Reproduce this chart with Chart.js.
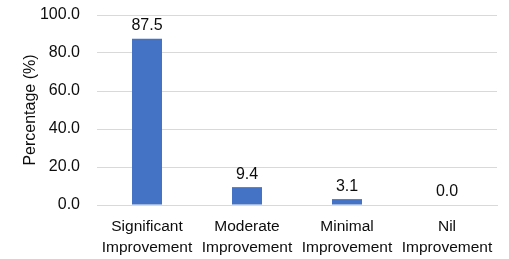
<!DOCTYPE html>
<html>
<head>
<meta charset="utf-8">
<script src="https://cdn.jsdelivr.net/npm/chart.js@4"></script>
<style>
  html, body { margin: 0; padding: 0; background: #fff; }
  #wrap { width: 509px; height: 259px; }
</style>
</head>
<body>
<div id="wrap"><canvas id="chart"></canvas></div>
<script>
  // Data
  const categories = [
    ["Significant", "Improvement"],
    ["Moderate", "Improvement"],
    ["Minimal", "Improvement"],
    ["Nil", "Improvement"]
  ];
  const percentages = [87.5, 9.4, 3.1, 0.0];
  const yTicks = [0, 20, 40, 60, 80, 100];

  const FONT = "'Liberation Sans', Arial, sans-serif";
  const TEXT = "#0d0d0d";

  // draws value labels above bars
  const valueLabels = {
    id: "valueLabels",
    afterDatasetsDraw(chart) {
      const ctx = chart.ctx;
      const meta = chart.getDatasetMeta(0);
      ctx.save();
      ctx.font = "16px " + FONT;
      ctx.fillStyle = TEXT;
      ctx.textAlign = "center";
      ctx.textBaseline = "bottom";
      meta.data.forEach((bar, i) => {
        ctx.fillText(percentages[i].toFixed(1), bar.x, bar.y - 5);
      });
      ctx.restore();
    }
  };

  new Chart(document.getElementById("chart"), {
    type: "bar",
    data: {
      labels: categories,
      datasets: [{
        data: percentages,
        backgroundColor: "#4472C4",
        barPercentage: 0.6,
        categoryPercentage: 0.5
      }]
    },
    options: {
      responsive: true,
      maintainAspectRatio: false,
      animation: false,
      layout: { padding: { top: 15, right: 12, bottom: 0, left: 0 } },
      plugins: { legend: { display: false }, tooltip: { enabled: false } },
      scales: {
        x: {
          grid: { display: false, drawTicks: false },
          border: { display: true, color: "#d9d9d9" },
          ticks: { color: TEXT, font: { family: FONT, size: 15.5, lineHeight: 1.35 }, padding: 11, maxRotation: 0 },
          afterFit: s => { s.height = 54; }
        },
        y: {
          min: 0, max: 100,
          afterBuildTicks: s => { s.ticks = yTicks.map(v => ({ value: v })); },
          grid: { color: "#d9d9d9", drawTicks: false },
          border: { display: false },
          ticks: {
            color: TEXT, font: { family: FONT, size: 16 }, padding: 17,
            callback: v => Number(v).toFixed(1)
          },
          title: {
            display: true, text: "Percentage (%)", color: TEXT,
            font: { family: FONT, size: 16 }, padding: { top: 21, bottom: 0 }
          },
          afterFit: s => { s.width = 97; s.paddingTop = 0; s.paddingBottom = 0; }
        }
      }
    },
    plugins: [valueLabels]
  });
</script>
</body>
</html>
